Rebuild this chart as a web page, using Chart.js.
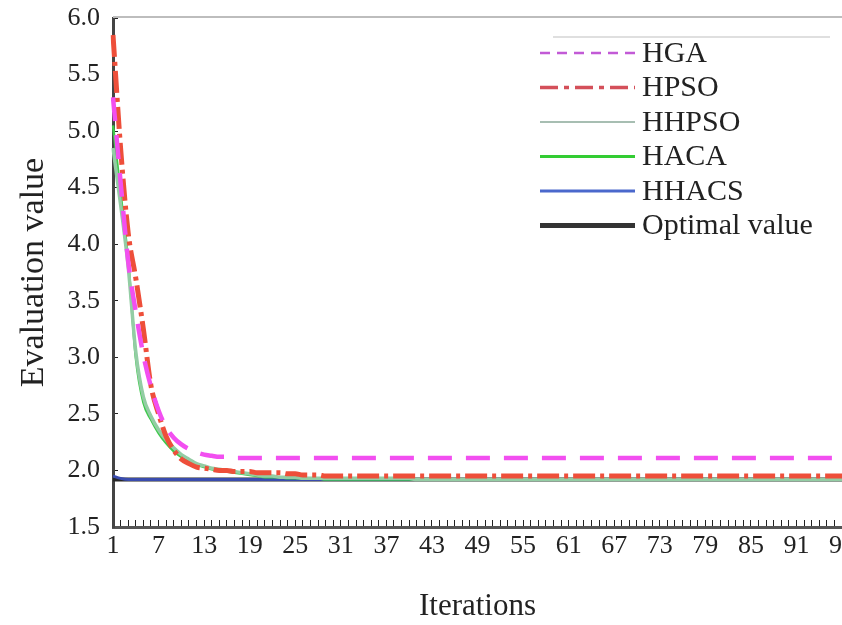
<!DOCTYPE html>
<html lang="en">
<head>
  <meta charset="UTF-8" />
  <title>Evaluation value per iteration</title>
  <script src="https://cdn.jsdelivr.net/npm/chart.js"></script>
  <style>
    html, body { margin: 0; padding: 0; background: #fff; }
    #caixa { width: 842px; height: 625px; }
  </style>
</head>
<body>
  <div id="caixa"><canvas id="grafico" width="842" height="625"></canvas></div>

  <script>
    // iterations 1..100 (x categories)
    const iteracoes = [];
    for (let i = 1; i <= 100; i++) iteracoes.push(String(i));

    const nomes = ['HGA', 'HPSO', 'HHPSO', 'HACA', 'HHACS', 'Optimal value'];

    // values
    const hga = [
      5.30, 4.55, 3.85, 3.40, 3.02, 2.74, 2.53, 2.38, 2.29, 2.23,
      2.19, 2.16, 2.14, 2.13, 2.12, 2.12, 2.11, 2.11, 2.11, 2.11,
      2.11, 2.11, 2.11, 2.11, 2.11, 2.11, 2.11, 2.11, 2.11, 2.11,
      2.11, 2.11, 2.11, 2.11, 2.11, 2.11, 2.11, 2.11, 2.11, 2.11,
      2.11, 2.11, 2.11, 2.11, 2.11, 2.11, 2.11, 2.11, 2.11, 2.11,
      2.11, 2.11, 2.11, 2.11, 2.11, 2.11, 2.11, 2.11, 2.11, 2.11,
      2.11, 2.11, 2.11, 2.11, 2.11, 2.11, 2.11, 2.11, 2.11, 2.11,
      2.11, 2.11, 2.11, 2.11, 2.11, 2.11, 2.11, 2.11, 2.11, 2.11,
      2.11, 2.11, 2.11, 2.11, 2.11, 2.11, 2.11, 2.11, 2.11, 2.11,
      2.11, 2.11, 2.11, 2.11, 2.11, 2.11, 2.11, 2.11, 2.11, 2.11
    ];
    const hpso = [
      5.85, 4.85, 4.10, 3.70, 3.25, 2.75, 2.50, 2.30, 2.18, 2.10,
      2.06, 2.03, 2.02, 2.01, 2.00, 2.00, 1.99, 1.99, 1.99, 1.98,
      1.98, 1.98, 1.98, 1.97, 1.97, 1.96, 1.96, 1.96, 1.95, 1.95,
      1.95, 1.95, 1.95, 1.95, 1.95, 1.95, 1.95, 1.95, 1.95, 1.95,
      1.95, 1.95, 1.95, 1.95, 1.95, 1.95, 1.95, 1.95, 1.95, 1.95,
      1.95, 1.95, 1.95, 1.95, 1.95, 1.95, 1.95, 1.95, 1.95, 1.95,
      1.95, 1.95, 1.95, 1.95, 1.95, 1.95, 1.95, 1.95, 1.95, 1.95,
      1.95, 1.95, 1.95, 1.95, 1.95, 1.95, 1.95, 1.95, 1.95, 1.95,
      1.95, 1.95, 1.95, 1.95, 1.95, 1.95, 1.95, 1.95, 1.95, 1.95,
      1.95, 1.95, 1.95, 1.95, 1.95, 1.95, 1.95, 1.95, 1.95, 1.95
    ];
    const hhpso = [
      4.85, 4.35, 3.80, 3.05, 2.65, 2.48, 2.36, 2.27, 2.20, 2.14,
      2.10, 2.06, 2.04, 2.02, 2.01, 2.00, 1.99, 1.98, 1.97, 1.96,
      1.95, 1.95, 1.94, 1.94, 1.94, 1.93, 1.93, 1.93, 1.93, 1.93,
      1.93, 1.93, 1.93, 1.93, 1.93, 1.93, 1.93, 1.93, 1.93, 1.93,
      1.92, 1.92, 1.92, 1.92, 1.92, 1.92, 1.92, 1.92, 1.92, 1.92,
      1.92, 1.92, 1.92, 1.92, 1.92, 1.92, 1.92, 1.92, 1.92, 1.92,
      1.92, 1.92, 1.92, 1.92, 1.92, 1.92, 1.92, 1.92, 1.92, 1.92,
      1.92, 1.92, 1.92, 1.92, 1.92, 1.92, 1.92, 1.92, 1.92, 1.92,
      1.92, 1.92, 1.92, 1.92, 1.92, 1.92, 1.92, 1.92, 1.92, 1.92,
      1.92, 1.92, 1.92, 1.92, 1.92, 1.92, 1.92, 1.92, 1.92, 1.92
    ];
    const haca = [
      5.05, 4.45, 3.85, 3.00, 2.60, 2.45, 2.33, 2.24, 2.17, 2.12,
      2.08, 2.05, 2.03, 2.01, 2.00, 1.99, 1.98, 1.97, 1.96, 1.95,
      1.94, 1.94, 1.94, 1.93, 1.93, 1.93, 1.93, 1.93, 1.92, 1.92,
      1.92, 1.92, 1.92, 1.92, 1.92, 1.92, 1.92, 1.92, 1.92, 1.92,
      1.92, 1.92, 1.92, 1.92, 1.92, 1.92, 1.92, 1.92, 1.92, 1.92,
      1.92, 1.92, 1.92, 1.92, 1.92, 1.92, 1.92, 1.92, 1.92, 1.92,
      1.92, 1.92, 1.92, 1.92, 1.92, 1.92, 1.92, 1.92, 1.92, 1.92,
      1.92, 1.92, 1.92, 1.92, 1.92, 1.92, 1.92, 1.92, 1.92, 1.92,
      1.92, 1.92, 1.92, 1.92, 1.92, 1.92, 1.92, 1.92, 1.92, 1.92,
      1.92, 1.92, 1.92, 1.92, 1.92, 1.92, 1.92, 1.92, 1.92, 1.92
    ];
    const hhacs = [
      1.95, 1.93, 1.92, 1.92, 1.92, 1.92, 1.92, 1.92, 1.92, 1.92,
      1.92, 1.92, 1.92, 1.92, 1.92, 1.92, 1.92, 1.92, 1.92, 1.92,
      1.92, 1.92, 1.92, 1.92, 1.92, 1.92, 1.92, 1.92, 1.92, 1.92,
      1.92, 1.92, 1.92, 1.92, 1.92, 1.92, 1.92, 1.92, 1.92, 1.92,
      1.92, 1.92, 1.92, 1.92, 1.92, 1.92, 1.92, 1.92, 1.92, 1.92,
      1.92, 1.92, 1.92, 1.92, 1.92, 1.92, 1.92, 1.92, 1.92, 1.92,
      1.92, 1.92, 1.92, 1.92, 1.92, 1.92, 1.92, 1.92, 1.92, 1.92,
      1.92, 1.92, 1.92, 1.92, 1.92, 1.92, 1.92, 1.92, 1.92, 1.92,
      1.92, 1.92, 1.92, 1.92, 1.92, 1.92, 1.92, 1.92, 1.92, 1.92,
      1.92, 1.92, 1.92, 1.92, 1.92, 1.92, 1.92, 1.92, 1.92, 1.92
    ];
    const otimo = [
      1.92, 1.92, 1.92, 1.92, 1.92, 1.92, 1.92, 1.92, 1.92, 1.92,
      1.92, 1.92, 1.92, 1.92, 1.92, 1.92, 1.92, 1.92, 1.92, 1.92,
      1.92, 1.92, 1.92, 1.92, 1.92, 1.92, 1.92, 1.92, 1.92, 1.92,
      1.92, 1.92, 1.92, 1.92, 1.92, 1.92, 1.92, 1.92, 1.92, 1.92,
      1.92, 1.92, 1.92, 1.92, 1.92, 1.92, 1.92, 1.92, 1.92, 1.92,
      1.92, 1.92, 1.92, 1.92, 1.92, 1.92, 1.92, 1.92, 1.92, 1.92,
      1.92, 1.92, 1.92, 1.92, 1.92, 1.92, 1.92, 1.92, 1.92, 1.92,
      1.92, 1.92, 1.92, 1.92, 1.92, 1.92, 1.92, 1.92, 1.92, 1.92,
      1.92, 1.92, 1.92, 1.92, 1.92, 1.92, 1.92, 1.92, 1.92, 1.92,
      1.92, 1.92, 1.92, 1.92, 1.92, 1.92, 1.92, 1.92, 1.92, 1.92
    ];

    const yTicksMin = 1.5;
    const yTicksMax = 6.0;
    const yTicksStep = 0.5;
    const xTickEvery = 6; // labels 1, 7, 13, ...
    const ultimaVisivel = '97'; // picture is cut just past iteration 97

    const fonte = '"Liberation Serif", "Times New Roman", serif';
    Chart.defaults.font.family = fonte;
    Chart.defaults.color = '#222';

    // legend drawn inside the plot, top right, plus the grey top frame line
    const legendaInterna = {
      id: 'legendaInterna',
      afterDatasetsDraw(chart) {
        const ctx = chart.ctx;
        const area = chart.chartArea;
        ctx.save();
        ctx.strokeStyle = '#bdbdbd';
        ctx.lineWidth = 2;
        ctx.beginPath();
        ctx.moveTo(area.left, area.top - 1);
        ctx.lineTo(area.right, area.top - 1);
        ctx.stroke();

        ctx.strokeStyle = '#d4d4d4';
        ctx.lineWidth = 1.5;
        ctx.beginPath();
        ctx.moveTo(553, 37);
        ctx.lineTo(830, 37);
        ctx.stroke();

        ctx.font = '30px ' + fonte;
        ctx.textAlign = 'left';
        ctx.textBaseline = 'middle';
        chart.data.datasets.forEach((ds, i) => {
          const y = 53 + i * 34.5;
          ctx.strokeStyle = ds.legendaCor || ds.borderColor;
          ctx.lineWidth = ds.legendaLargura || ds.borderWidth;
          ctx.setLineDash(ds.legendaTraco || []);
          ctx.beginPath();
          ctx.moveTo(540, y);
          ctx.lineTo(635, y);
          ctx.stroke();
          ctx.setLineDash([]);
          ctx.fillStyle = '#222';
          ctx.fillText(ds.label, 642, y + 1);
        });
        ctx.restore();
      }
    };

    const linha = (label, data, cor, largura, traco, extra) => Object.assign({
      label, data,
      borderColor: cor,
      borderWidth: largura,
      borderDash: traco,
      pointRadius: 0,
      fill: false,
      cubicInterpolationMode: 'monotone'
    }, extra || {});

    const ctx = document.getElementById('grafico').getContext('2d');
    new Chart(ctx, {
      type: 'line',
      data: {
        labels: iteracoes,
        datasets: [
          linha(nomes[0], hga, '#f24ff0', 4.5, [24, 14], { legendaCor: '#c25ad6', legendaLargura: 2.5, legendaTraco: [10, 7] }),
          linha(nomes[1], hpso, '#ee4f3a', 5, [22, 5, 4, 5], { legendaCor: '#d4505a', legendaLargura: 3.5, legendaTraco: [18, 6, 5, 6] }),
          linha(nomes[2], hhpso, '#93cda4', 3.5, [], { legendaCor: '#8aa898', legendaLargura: 1.5 }),
          linha(nomes[3], haca, '#3fc94c', 2.5, [], { legendaCor: '#33cc33', legendaLargura: 3 }),
          linha(nomes[4], hhacs, '#3a4cae', 3, [], { legendaCor: '#4a68cc', legendaLargura: 3 }),
          linha(nomes[5], otimo, '#262626', 4, [], { legendaCor: '#333', legendaLargura: 5 })
        ]
      },
      options: {
        responsive: false,
        animation: false,
        layout: { padding: { top: 18, right: 0, bottom: 0, left: 0 } },
        plugins: {
          legend: { display: false },
          tooltip: { enabled: false }
        },
        scales: {
          x: {
            type: 'category',
            max: ultimaVisivel,
            grid: { drawOnChartArea: false, drawTicks: true, tickLength: -7, color: '#222', lineWidth: 1 },
            border: { color: '#555', width: 3 },
            ticks: {
              autoSkip: false,
              maxRotation: 0,
              padding: 11,
              font: { size: 26 },
              color: '#222',
              callback(v, i) { return i % xTickEvery === 0 ? this.getLabelForValue(v) : ''; }
            },
            title: { display: true, text: 'Iterations', font: { size: 31 }, color: '#222', padding: { top: 0, bottom: 0 } },
            afterFit(s) { s.height = 98; s.paddingLeft = 0; s.paddingRight = 0; }
          },
          y: {
            min: yTicksMin,
            max: yTicksMax,
            grid: { drawOnChartArea: false, drawTicks: true, tickLength: -5, color: '#222' },
            border: { color: '#444', width: 3 },
            ticks: {
              stepSize: yTicksStep,
              padding: 18,
              font: { size: 26 },
              color: '#222',
              callback: v => Number(v).toFixed(1)
            },
            title: { display: true, text: 'Evaluation value', font: { size: 34 }, color: '#222', padding: { top: 14, bottom: 0 } },
            afterFit(s) { s.width = 113; s.paddingTop = 0; s.paddingBottom = 0; }
          }
        }
      },
      plugins: [legendaInterna]
    });
  </script>
</body>
</html>
